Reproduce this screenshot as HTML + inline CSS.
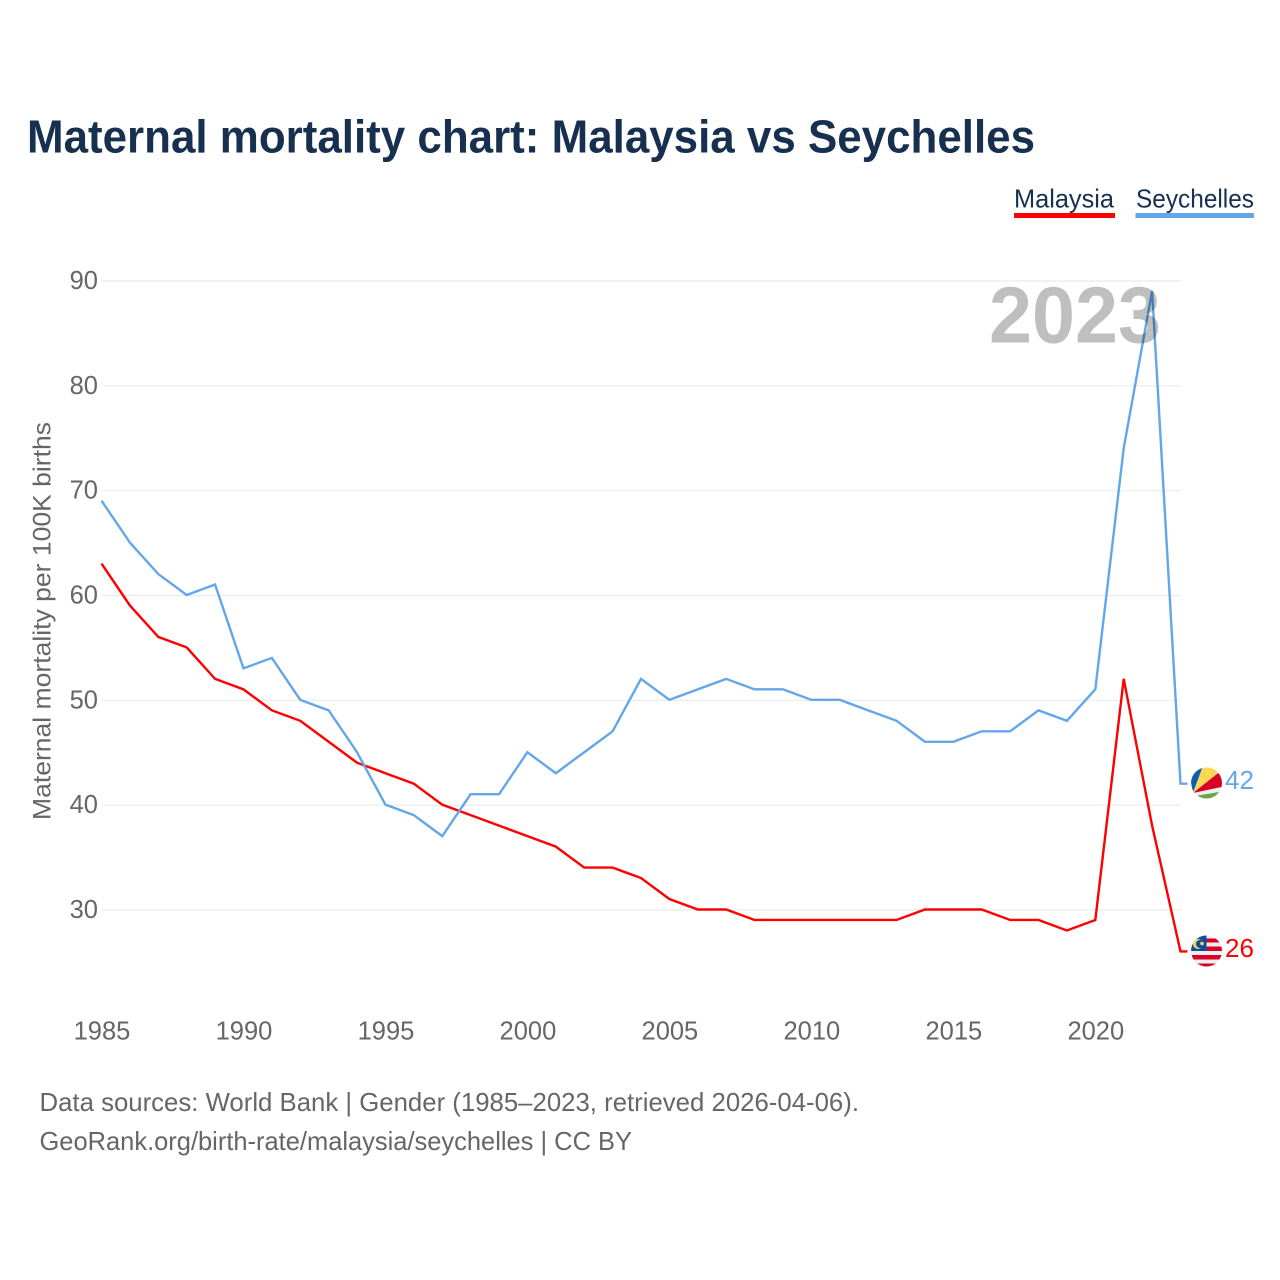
<!DOCTYPE html>
<html lang="en">
<head>
<meta charset="utf-8">
<title>Maternal mortality chart: Malaysia vs Seychelles</title>
<style>
html,body{margin:0;padding:0;background:#fff;}
svg{display:block;font-family:"Liberation Sans",sans-serif;}
</style>
</head>
<body>
<svg id="chart" width="1280" height="1280" viewBox="0 0 1280 1280" xmlns="http://www.w3.org/2000/svg">
  <defs>
    <clipPath id="sc-clip"><circle cx="1206.5" cy="783" r="15.5"/></clipPath>
    <clipPath id="my-clip"><circle cx="1206.5" cy="951" r="15.5"/></clipPath>
  </defs>
  <rect width="1280" height="1280" fill="#fff"/>
  <text x="27" y="152.5" font-size="46" font-weight="700" fill="#17304f" textLength="1008" lengthAdjust="spacingAndGlyphs">Maternal mortality chart: Malaysia vs Seychelles</text>

  <g>
    <text x="1014" y="207.5" font-size="26" fill="#17304f" textLength="100" lengthAdjust="spacingAndGlyphs">Malaysia</text>
    <rect x="1014" y="213" width="101" height="5" fill="#ff0000"/>
    <text x="1136" y="207.5" font-size="26" fill="#17304f" textLength="118" lengthAdjust="spacingAndGlyphs">Seychelles</text>
    <rect x="1135.5" y="213" width="118.5" height="5" fill="#63a6ea"/>
  </g>

  <g id="grid"></g>
  <g id="ylabels"></g>
  <g id="xlabels"></g>
  <text transform="translate(50.5,820) rotate(-90)" x="0" y="0" font-size="25" fill="#666" textLength="398" lengthAdjust="spacingAndGlyphs">Maternal mortality per 100K births</text>

  <g id="series"></g>

  <text x="989" y="342.5" font-size="80" font-weight="700" fill="#000" fill-opacity="0.25" textLength="172" lengthAdjust="spacingAndGlyphs">2023</text>

  <g clip-path="url(#sc-clip)">
    <rect x="1190" y="766" width="34" height="36" fill="#eeeeee"/>
    <polygon points="1193,793 1188,766 1203,766" fill="#0d5eaf"/>
    <polygon points="1193,793 1203,766 1218,766 1217,774" fill="#fcd856"/>
    <polygon points="1193,793 1217,774 1226,768 1226,786" fill="#d80027"/>
    <polygon points="1195,796 1219,792 1226,802 1195,802" fill="#6da544"/>
  </g>
  <g clip-path="url(#my-clip)">
    <rect x="1190" y="935" width="34" height="33" fill="#eeeeee"/>
    <rect x="1206" y="938.5" width="18" height="4" fill="#d80027"/>
    <rect x="1206" y="946.5" width="18" height="4.5" fill="#d80027"/>
    <rect x="1190" y="955" width="34" height="4.5" fill="#d80027"/>
    <rect x="1190" y="963.5" width="34" height="5" fill="#d80027"/>
    <rect x="1190" y="935" width="16.5" height="16" fill="#0d4da1"/>
    <circle cx="1198" cy="944" r="5" fill="#fcd856"/>
    <circle cx="1200" cy="944" r="4" fill="#0d4da1"/>
    <circle cx="1202" cy="943.5" r="1.8" fill="#fcd856"/>
  </g>
  <text id="end-sc" x="1225" y="789" font-size="26" fill="#63a6ea"></text>
  <text id="end-my" x="1225" y="957" font-size="26" fill="#ff0000"></text>

  <g>
    <text x="39.5" y="1111" font-size="26" fill="#666" textLength="819.5" lengthAdjust="spacingAndGlyphs">Data sources: World Bank | Gender (1985–2023, retrieved 2026-04-06).</text>
    <text x="39.5" y="1150" font-size="26" fill="#666" textLength="592.5" lengthAdjust="spacingAndGlyphs">GeoRank.org/birth-rate/malaysia/seychelles | CC BY</text>
  </g>
</svg>
<script>
const years = [1985,1986,1987,1988,1989,1990,1991,1992,1993,1994,1995,1996,1997,1998,1999,2000,2001,2002,2003,2004,2005,2006,2007,2008,2009,2010,2011,2012,2013,2014,2015,2016,2017,2018,2019,2020,2021,2022,2023];
const malaysia = [63,59,56,55,52,51,49,48,46,44,43,42,40,39,38,37,36,34,34,33,31,30,30,29,29,29,29,29,29,30,30,30,29,29,28,29,52,38,26];
const seychelles = [69,65,62,60,61,53,54,50,49,45,40,39,37,41,41,45,43,45,47,52,50,51,52,51,51,50,50,49,48,46,46,47,47,49,48,51,74,89,42];
const yTicks = [30,40,50,60,70,80,90];
const xTicks = [1985,1990,1995,2000,2005,2010,2015,2020];

const NS = 'http://www.w3.org/2000/svg';
const xScale = function (year) { return 101.5 + (year - 1985) * (1079 / 38); };
const yScale = function (value) { return 909.5 - (value - 30) * (629 / 60); };
const gridY = function (value) { return yScale(value) + 0.5; };

const grid = document.getElementById('grid');
const ylabels = document.getElementById('ylabels');
const xlabels = document.getElementById('xlabels');
const series = document.getElementById('series');

yTicks.forEach(function (t) {
  const line = document.createElementNS(NS, 'line');
  
  
  line.setAttribute('x1', 102);
  line.setAttribute('x2', 1181);
  line.setAttribute('y1', gridY(t));
  line.setAttribute('y2', gridY(t));
  line.setAttribute('stroke', '#ebebeb');
  line.setAttribute('stroke-width', '1.2');
  grid.appendChild(line);

  const label = document.createElementNS(NS, 'text');
  
  
  label.setAttribute('x', 98);
  label.setAttribute('y', gridY(t) + 8);
  label.setAttribute('text-anchor', 'end');
  label.setAttribute('font-size', '25.5');
  label.setAttribute('fill', '#666');
  label.textContent = t;
  ylabels.appendChild(label);
});

xTicks.forEach(function (t) {
  const label = document.createElementNS(NS, 'text');
  
  
  label.setAttribute('x', xScale(t) + 0.5);
  label.setAttribute('y', 1039.5);
  label.setAttribute('text-anchor', 'middle');
  label.setAttribute('font-size', '25.5');
  label.setAttribute('fill', '#666');
  label.textContent = t;
  xlabels.appendChild(label);
});

function pointsFor(values) {
  return values.map(function (v, i) {
    return xScale(years[i]).toFixed(2) + ',' + yScale(v).toFixed(2);
  });
}

const malaysiaPoints = pointsFor(malaysia);
const malaysiaEnd = malaysia[malaysia.length - 1];
malaysiaPoints.push((xScale(2023) + 7).toFixed(2) + ',' + yScale(malaysiaEnd).toFixed(2));
const malaysiaLine = document.createElementNS(NS, 'polyline');


malaysiaLine.setAttribute('points', malaysiaPoints.join(' '));
malaysiaLine.setAttribute('fill', 'none');
malaysiaLine.setAttribute('stroke', '#ff0000');
malaysiaLine.setAttribute('stroke-width', '2.4');
series.appendChild(malaysiaLine);

const seychellesPoints = pointsFor(seychelles);
const seychellesEnd = seychelles[seychelles.length - 1];
seychellesPoints.push((xScale(2023) + 7).toFixed(2) + ',' + yScale(seychellesEnd).toFixed(2));
const seychellesLine = document.createElementNS(NS, 'polyline');


seychellesLine.setAttribute('points', seychellesPoints.join(' '));
seychellesLine.setAttribute('fill', 'none');
seychellesLine.setAttribute('stroke', '#63a6ea');
seychellesLine.setAttribute('stroke-width', '2.4');
series.appendChild(seychellesLine);

document.getElementById('end-sc').textContent = seychellesEnd;
document.getElementById('end-my').textContent = malaysiaEnd;
</script>
</body>
</html>
